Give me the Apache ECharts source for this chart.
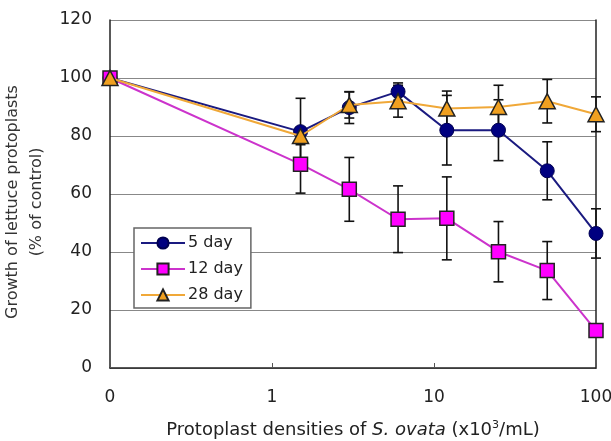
<!DOCTYPE html>
<html>
<head>
<meta charset="utf-8">
<script src="https://cdn.jsdelivr.net/npm/echarts@6/dist/echarts.min.js"></script>
<style>html,body{margin:0;padding:0;background:#fff;}#c{width:611px;height:441px;}</style>
</head>
<body>
<div id="c"></div>
<script>
var densities = [0, 1.5, 3, 6, 12, 25, 50, 100];
var day5  = [100, 81.5, 89.8, 95.3, 82, 82, 68, 46.4];
var day5Err  = [0, 11.5, 5.5, 3, 12, 10.5, 10, 8.5];
var day12 = [100, 70.3, 61.6, 51.3, 51.6, 40.1, 33.6, 12.9];
var day12Err = [0, 10, 11, 11.5, 14.3, 10.4, 10, 2];
var day28 = [100, 80, 90.7, 92, 89.5, 90, 92, 87.5];
var day28Err = [0, 3, 4.5, 5.5, 6, 7.5, 7.5, 6];
var xTickLabels = {'-1': '0', '0': '1', '1': '10', '2': '100'};
var seriesNames = ['5 day', '12 day', '28 day'];

function xPos(d) { return d === 0 ? -1 : Math.log10(d); }
function pts(vals) { return densities.map(function (d, i) { return [xPos(d), vals[i]]; }); }
function errPts(vals, errs) {
  return densities.map(function (d, i) { return [xPos(d), vals[i] - errs[i], vals[i] + errs[i]]; })
    .filter(function (p, i) { return errs[i] > 0; });
}
function errSeries(vals, errs) {
  return {
    type: 'custom',
    data: errPts(vals, errs),
    z: 1,
    silent: true,
    renderItem: function (params, api) {
      var lo = api.coord([api.value(0), api.value(1)]);
      var hi = api.coord([api.value(0), api.value(2)]);
      var w = 5;
      var st = { stroke: '#111', lineWidth: 1.6 };
      return {
        type: 'group',
        children: [
          { type: 'line', shape: { x1: lo[0], y1: lo[1], x2: hi[0], y2: hi[1] }, style: st },
          { type: 'line', shape: { x1: lo[0] - w, y1: lo[1], x2: lo[0] + w, y2: lo[1] }, style: st },
          { type: 'line', shape: { x1: hi[0] - w, y1: hi[1], x2: hi[0] + w, y2: hi[1] }, style: st }
        ]
      };
    }
  };
}

var font = 'DejaVu Sans, Liberation Sans, sans-serif';
var chart = echarts.init(document.getElementById('c'));
chart.setOption({
  animation: false,
  backgroundColor: '#fff',
  grid: { left: 110, right: 15, top: 20, bottom: 73, outerBoundsMode: 'none', containLabel: false },
  legend: {
    orient: 'vertical',
    left: 134, top: 228,
    padding: [7, 8, 5, 6],
    itemGap: 10,
    itemWidth: 44, itemHeight: 14,
    backgroundColor: '#fff',
    borderColor: '#666', borderWidth: 1.5,
    borderRadius: 0,
    textStyle: { fontFamily: font, fontSize: 16, color: '#222', padding: [0, 0, 0, -2] },
    data: seriesNames
  },
  xAxis: {
    type: 'value', min: -1, max: 2, interval: 1,
    axisLine: { onZero: false, lineStyle: { color: '#222', width: 1.5 } },
    axisTick: { inside: true, length: 5, lineStyle: { color: '#555' } },
    splitLine: { show: false },
    axisLabel: {
      fontFamily: font, fontSize: 17, color: '#222', margin: 21,
      formatter: function (v) { return xTickLabels[String(v)] || ''; }
    },
    name: '{n|Protoplast densities of }{i|S. ovata}{n| (x10}{s|3}{n|/mL)}',
    nameLocation: 'middle', nameGap: 52,
    nameTextStyle: {
      rich: {
        n: { fontFamily: font, fontSize: 18, color: '#222' },
        i: { fontFamily: font, fontSize: 18, color: '#222', fontStyle: 'italic' },
        s: { fontFamily: font, fontSize: 11, color: '#222', verticalAlign: 'top', padding: [0, 0, 9, 0] }
      }
    }
  },
  yAxis: [{
    type: 'value', min: 0, max: 120, interval: 20,
    axisLine: { show: true, onZero: false, lineStyle: { color: '#222', width: 1.5 } },
    axisTick: { show: false },
    splitLine: { lineStyle: { color: '#888', width: 1 } },
    axisLabel: { fontFamily: font, fontSize: 17, color: '#222', margin: 18 },
    name: 'Growth of lettuce protoplasts\n(% of control)',
    nameLocation: 'middle', nameGap: 53, nameRotate: 90,
    nameTextStyle: { fontFamily: font, fontSize: 16, color: '#333', lineHeight: 24, align: 'center', padding: [0, 16, 0, 0] }
  }, {
    type: 'value', min: 0, max: 120, interval: 20, position: 'right',
    axisLine: { show: true, onZero: false, lineStyle: { color: '#222', width: 1.5 } },
    axisTick: { show: false }, axisLabel: { show: false }, splitLine: { show: false }
  }],
  series: [
    errSeries(day5, day5Err),
    errSeries(day12, day12Err),
    errSeries(day28, day28Err),
    {
      name: seriesNames[0], type: 'line', data: pts(day5), z: 3,
      symbol: 'circle', symbolSize: 14,
      lineStyle: { color: '#1a1a80', width: 2 },
      itemStyle: { color: '#000080', borderColor: '#000050', borderWidth: 1 }
    },
    {
      name: seriesNames[1], type: 'line', data: pts(day12), z: 4,
      symbol: 'rect', symbolSize: 14,
      lineStyle: { color: '#cc33cc', width: 2 },
      itemStyle: { color: '#ff00ff', borderColor: '#222', borderWidth: 1.5 }
    },
    {
      name: seriesNames[2], type: 'line', data: pts(day28), z: 5,
      symbol: 'triangle', symbolSize: [16, 15],
      lineStyle: { color: '#f0a838', width: 2 },
      itemStyle: { color: '#f0a020', borderColor: '#222', borderWidth: 1.5 }
    }
  ]
});
</script>
</body>
</html>
